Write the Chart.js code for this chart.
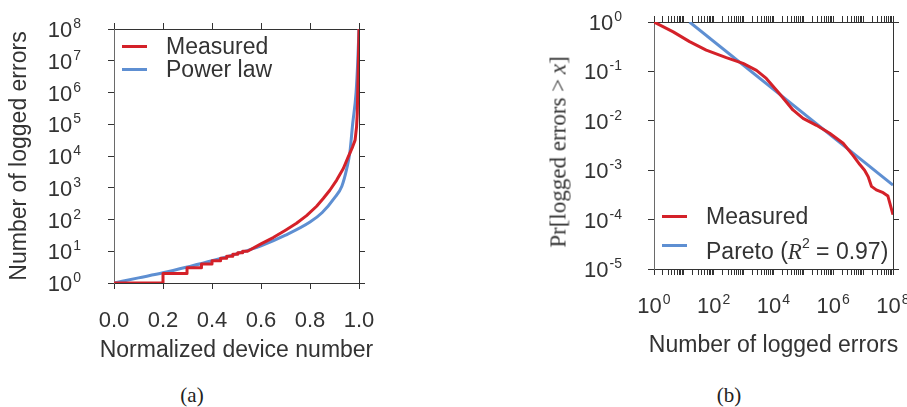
<!DOCTYPE html>
<html>
<head>
<meta charset="utf-8">
<script src="https://cdn.jsdelivr.net/npm/chart.js@4.4.0/dist/chart.umd.min.js"></script>
<style>
  html, body { margin: 0; padding: 0; background: #fff; }
  body { width: 907px; height: 407px; position: relative; overflow: hidden;
         font-family: "Liberation Sans", Arial, sans-serif; color: #333; }
  canvas { position: absolute; top: 0; }
  #errorsByDevice { left: 0; }
  #errorsCcdf { left: 540px; }
  .legend-row { position: absolute; white-space: nowrap; font-size: 23px; line-height: 23px; }
  .legend-row .swatch { position: absolute; left: 0; width: 25px; height: 3px; }
  .legend-row .label { position: absolute; left: 44px; top: 0; }
  .math { font-family: "Liberation Serif", "Times New Roman", serif; font-style: italic; }
  .legend-row sup { font-size: 14px; position: relative; top: -2px; }
  .ytitle { position: absolute; white-space: nowrap; font-family: "Liberation Serif", "Times New Roman", serif;
            font-size: 23px; line-height: 23px; transform: translate(-50%, -50%) rotate(-90deg); }
  .caption { position: absolute; top: 385px; font-family: "Liberation Serif", "Times New Roman", serif;
             font-size: 21px; line-height: 21px; color: #222; transform: translateX(-50%); }
</style>
</head>
<body>
<canvas id="errorsByDevice" width="400" height="370"></canvas>
<canvas id="errorsCcdf" width="367" height="370"></canvas>
<div id="legendA"></div>
<div id="legendB"></div>
<div class="ytitle" style="left:558px; top:152px;">Pr[logged errors &gt;&thinsp;<i>x</i>]</div>
<div class="caption" style="left:192px;">(a)</div>
<div class="caption" style="left:729px;">(b)</div>
<script>
// (a) logged errors per device, devices sorted by error count
const deviceFrac   = [0, 0.2, 0.2, 0.298, 0.298, 0.357, 0.357, 0.40, 0.40, 0.435, 0.435, 0.46, 0.46,
                      0.485, 0.485, 0.505, 0.505, 0.525, 0.525, 0.545, 0.6, 0.65, 0.7, 0.745, 0.786,
                      0.827, 0.854, 0.881, 0.909, 0.936, 0.956, 0.974, 0.984, 0.99, 0.993, 0.997, 1.0];
const deviceErrors = [1, 1, 2, 2, 3, 3, 4, 4, 5, 5, 6, 6, 7, 7, 8, 8, 9, 9, 10, 10, 17, 27, 46, 76, 132,
                      262, 457, 836, 1740, 4030, 9400, 19500, 31600, 83000, 220000, 6.5e6, 1e8];
const powerFrac    = [0, 0.1, 0.2, 0.3, 0.4, 0.5, 0.6, 0.7, 0.8, 0.85, 0.9, 0.93, 0.95, 0.963, 0.974,
                      0.988, 0.995, 1.0];
const powerErrors  = [1, 1.45, 2.1, 3.2, 5.0, 8.3, 14.8, 32, 83, 166, 480, 1120, 4000, 13500, 1e5,
                      1e6, 1e7, 1e8];

// (b) complementary CDF of logged errors per device
const ccdfErrors = [1, 4.4, 15.5, 56, 263, 955, 2690, 5750, 16200, 44700, 97700, 275000, 759000,
                    2.14e6, 4.57e6, 7.76e6, 1.12e7, 1.48e7, 1.91e7, 2.75e7, 4.68e7, 6.76e7, 1e8];
const ccdfProb   = [1, 0.63, 0.40, 0.27, 0.19, 0.145, 0.105, 0.072, 0.035, 0.0166, 0.0112, 0.0081,
                    0.0056, 0.0035, 0.0020, 0.0013, 0.001, 0.00074, 0.00047, 0.0004, 0.00035,
                    0.00030, 0.000126];
const paretoErrors = [15.5, 1e8];
const paretoProb   = [1, 5.0e-4];

// tick positions / labels
const deviceTicks = [0, 0.2, 0.4, 0.6, 0.8, 1.0];
const countExps   = [0, 1, 2, 3, 4, 5, 6, 7, 8];
const errorExps   = [0, 2, 4, 6, 8];
const probExps    = [0, -1, -2, -3, -4, -5];

const RED = '#d42129';
const BLUE = '#5e8fd2';
const AXIS = '#333';
const AXIS_LEFT = '#6a6a6a';
const TXT = '#333';
const SANS = '"Liberation Sans", Arial, sans-serif';

const pts = (xs, ys) => xs.map((x, i) => ({ x, y: ys[i] }));
const fixSize = px => s => { if (s.isHorizontal()) s.height = px; else s.width = px; };
const decadeTicks = exps => s => { s.ticks = exps.map(e => ({ value: Math.pow(10, e) })); };
const minorLogTicks = (lo, hi) => s => {
  const t = [];
  for (let k = lo; k < hi; k++) for (let m = 1; m <= 9; m++) t.push({ value: m * Math.pow(10, k) });
  t.push({ value: Math.pow(10, hi) });
  s.ticks = t;
};

// "10" with a raised exponent, drawn next to the axis ticks
function drawPower(ctx, exp, x, y, mode) {
  const sup = String(exp);
  ctx.font = '22px ' + SANS; const wb = ctx.measureText('10').width;
  ctx.font = '14px ' + SANS; const ws = ctx.measureText(sup).width;
  const total = wb + 1 + ws;
  let left, base;
  if (mode === 'left') { left = x - total; base = y + 8; }
  else { left = x - total / 2; base = y; }
  ctx.fillStyle = TXT; ctx.textAlign = 'left'; ctx.textBaseline = 'alphabetic';
  ctx.font = '22px ' + SANS; ctx.fillText('10', left, base);
  ctx.font = '14px ' + SANS; ctx.fillText(sup, left + wb + 1, base - 9);
}

const powerLabels = {
  id: 'powerLabels',
  afterDraw(chart, args, opts) {
    const ctx = chart.ctx;
    ctx.save();
    (opts.items || []).forEach(it => {
      const sc = chart.scales[it.axis];
      it.exps.forEach(e => {
        const p = sc.getPixelForValue(Math.pow(10, e));
        if (it.mode === 'left') drawPower(ctx, e, chart.chartArea.left - it.gap, p, 'left');
        else drawPower(ctx, e, p, chart.chartArea.bottom + it.gap, 'bottom');
      });
    });
    ctx.restore();
  }
};

// bottom axis title, centred under the plot and allowed to run wider than it
const bottomTitle = {
  id: 'bottomTitle',
  afterDraw(chart, args, opts) {
    if (!opts.text) return;
    const ctx = chart.ctx, a = chart.chartArea;
    ctx.save();
    ctx.font = '23px ' + SANS;
    ctx.fillStyle = TXT; ctx.textAlign = 'center'; ctx.textBaseline = 'middle';
    ctx.fillText(opts.text, (a.left + a.right) / 2, a.bottom + opts.offset);
    ctx.restore();
  }
};

const frameAxis = (extra) => Object.assign({
  grid: { drawOnChartArea: false, drawTicks: true, tickLength: 6, color: AXIS, lineWidth: 1 },
  border: { display: true, color: AXIS, width: 1 },
  ticks: { display: false }
}, extra);

const common = {
  responsive: false,
  animation: false,
  devicePixelRatio: 1,
  layout: { padding: 0 },
  elements: { point: { radius: 0 }, line: { borderWidth: 3, borderCapStyle: 'butt', borderJoinStyle: 'round' } }
};

new Chart(document.getElementById('errorsByDevice'), {
  type: 'line',
  plugins: [powerLabels, bottomTitle],
  data: {
    datasets: [
      { label: 'Measured', data: pts(deviceFrac, deviceErrors), borderColor: RED, tension: 0 },
      { label: 'Power law', data: pts(powerFrac, powerErrors), borderColor: BLUE, cubicInterpolationMode: 'monotone' }
    ]
  },
  options: Object.assign({}, common, {
    plugins: {
      legend: { display: false }, tooltip: { enabled: false },
      powerLabels: { items: [{ axis: 'y', exps: countExps, mode: 'left', gap: 33 }] },
      bottomTitle: { text: 'Normalized device number', offset: 68 }
    },
    scales: {
      x: frameAxis({
        type: 'linear', position: 'bottom', min: 0, max: 1,
        afterBuildTicks: s => { s.ticks = deviceTicks.map(v => ({ value: v })); },
        afterFit: fixSize(87),
        ticks: { display: true, autoSkip: false, maxRotation: 0, padding: 19, color: TXT,
                 font: { family: SANS, size: 22 }, callback: v => Number(v).toFixed(1) }
      }),
      xTop: frameAxis({
        type: 'linear', position: 'top', min: 0, max: 1,
        afterBuildTicks: s => { s.ticks = deviceTicks.map(v => ({ value: v })); },
        afterFit: fixSize(29)
      }),
      y: frameAxis({
        type: 'logarithmic', position: 'left', min: 1, max: 1e8,
        afterBuildTicks: decadeTicks(countExps), afterFit: fixSize(114),
        border: { display: true, color: AXIS_LEFT, width: 1 },
        title: { display: true, text: 'Number of logged errors', color: TXT,
                 font: { family: SANS, size: 23 }, padding: { top: 6, bottom: 0 } }
      }),
      yRight: frameAxis({
        type: 'logarithmic', position: 'right', min: 1, max: 1e8,
        afterBuildTicks: decadeTicks(countExps), afterFit: fixSize(41)
      })
    }
  })
});

new Chart(document.getElementById('errorsCcdf'), {
  type: 'line',
  plugins: [powerLabels, bottomTitle],
  data: {
    datasets: [
      { label: 'Measured', data: pts(ccdfErrors, ccdfProb), borderColor: RED, tension: 0 },
      { label: 'Pareto (R\u00b2 = 0.97)', data: pts(paretoErrors, paretoProb), borderColor: BLUE, tension: 0 }
    ]
  },
  options: Object.assign({}, common, {
    plugins: {
      legend: { display: false }, tooltip: { enabled: false },
      powerLabels: { items: [
        { axis: 'y', exps: probExps, mode: 'left', gap: 32 },
        { axis: 'x', exps: errorExps, mode: 'bottom', gap: 44 }
      ] },
      bottomTitle: { text: 'Number of logged errors', offset: 77 }
    },
    scales: {
      x: frameAxis({
        type: 'logarithmic', position: 'bottom', min: 1, max: 1e8,
        afterBuildTicks: minorLogTicks(0, 8), afterFit: fixSize(101)
      }),
      xTop: frameAxis({
        type: 'logarithmic', position: 'top', min: 1, max: 1e8,
        afterBuildTicks: minorLogTicks(0, 8), afterFit: fixSize(22)
      }),
      y: frameAxis({
        type: 'logarithmic', position: 'left', min: 1e-5, max: 1,
        afterBuildTicks: decadeTicks(probExps), afterFit: fixSize(114),
        border: { display: true, color: AXIS_LEFT, width: 1 }
      }),
      yRight: frameAxis({
        type: 'logarithmic', position: 'right', min: 1e-5, max: 1,
        afterBuildTicks: decadeTicks(probExps), afterFit: fixSize(14)
      })
    }
  })
});

// legends built from the series colours
function legend(el, rows) {
  el.innerHTML = rows.map(r =>
    '<div class="legend-row" style="left:' + r.x + 'px; top:' + r.top + 'px;">' +
    '<div class="swatch" style="top:' + r.sw + 'px; background:' + r.color + ';"></div>' +
    '<div class="label">' + r.html + '</div></div>').join('');
}
legend(document.getElementById('legendA'), [
  { x: 122, top: 35, sw: 10, color: RED, html: 'Measured' },
  { x: 122, top: 58, sw: 10, color: BLUE, html: 'Power law' }
]);
legend(document.getElementById('legendB'), [
  { x: 662, top: 205, sw: 10, color: RED, html: 'Measured' },
  { x: 662, top: 234, sw: 10, color: BLUE, html: 'Pareto (<span class="math">R</span><sup>2</sup> = 0.97)' }
]);
</script>
</body>
</html>
